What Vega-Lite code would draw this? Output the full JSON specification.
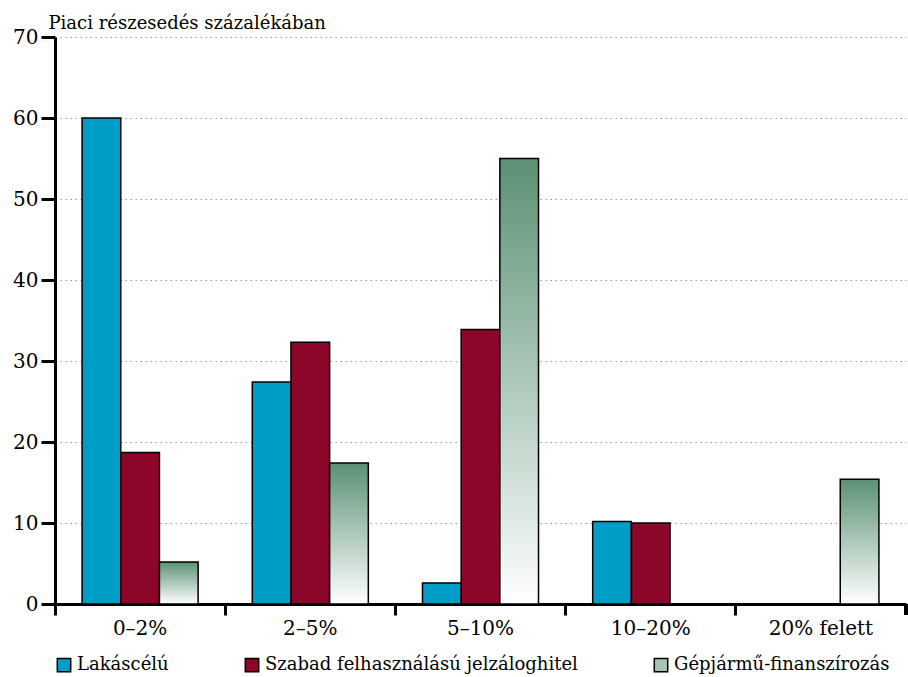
{
  "$schema": "https://vega.github.io/schema/vega-lite/v6.json",
  "width": 851,
  "height": 567,
  "autosize": {"type": "none"},
  "padding": {"left": 55, "top": 37, "right": 2, "bottom": 73},
  "background": "white",
  "config": {"view": {"stroke": null}, "font": "DejaVu Serif"},
  "data": {
    "values": [
      {"kat": "0–2%", "tipus": "Lakáscélú", "ertek": 60.0},
      {"kat": "0–2%", "tipus": "Szabad felhasználású jelzáloghitel", "ertek": 18.7},
      {"kat": "0–2%", "tipus": "Gépjármű-finanszírozás", "ertek": 5.2},
      {"kat": "2–5%", "tipus": "Lakáscélú", "ertek": 27.4},
      {"kat": "2–5%", "tipus": "Szabad felhasználású jelzáloghitel", "ertek": 32.3},
      {"kat": "2–5%", "tipus": "Gépjármű-finanszírozás", "ertek": 17.4},
      {"kat": "5–10%", "tipus": "Lakáscélú", "ertek": 2.6},
      {"kat": "5–10%", "tipus": "Szabad felhasználású jelzáloghitel", "ertek": 33.9},
      {"kat": "5–10%", "tipus": "Gépjármű-finanszírozás", "ertek": 55.0},
      {"kat": "10–20%", "tipus": "Lakáscélú", "ertek": 10.2},
      {"kat": "10–20%", "tipus": "Szabad felhasználású jelzáloghitel", "ertek": 10.0},
      {"kat": "20% felett", "tipus": "Gépjármű-finanszírozás", "ertek": 15.4}
    ]
  },
  "layer": [
    {
      "mark": {"type": "bar", "stroke": "black", "strokeWidth": 1.5},
      "encoding": {
        "x": {
          "field": "kat",
          "type": "nominal",
          "scale": {"domain": ["0–2%", "2–5%", "5–10%", "10–20%", "20% felett"], "paddingInner": 0, "paddingOuter": 0},
          "axis": {
            "orient": "bottom",
            "title": null,
            "domain": false,
            "ticks": false,
            "grid": false,
            "labelAngle": 0,
            "labelFont": "DejaVu Serif",
            "labelFontSize": 20,
            "labelColor": "black",
            "labelPadding": 14
          }
        },
        "xOffset": {
          "field": "tipus",
          "type": "nominal",
          "scale": {"domain": ["Lakáscélú", "Szabad felhasználású jelzáloghitel", "Gépjármű-finanszírozás"], "paddingInner": 0, "paddingOuter": 0.7}
        },
        "y": {
          "field": "ertek",
          "type": "quantitative",
          "scale": {"domain": [0, 70], "nice": false},
          "axis": {
            "values": [0, 10, 20, 30, 40, 50, 60, 70],
            "title": "Piaci részesedés százalékában",
            "titleAngle": 0,
            "titleAlign": "left",
            "titleBaseline": "alphabetic",
            "titleX": -7,
            "titleY": -9,
            "titleFont": "DejaVu Serif",
            "titleFontSize": 18,
            "titleFontWeight": "normal",
            "titleColor": "black",
            "domainColor": "black",
            "domainWidth": 3,
            "tickColor": "black",
            "tickWidth": 3,
            "tickSize": 14,
            "labelFont": "DejaVu Serif",
            "labelFontSize": 20,
            "labelColor": "black",
            "labelPadding": 3,
            "grid": true,
            "gridColor": "#9a9a9a",
            "gridDash": [1.5, 3.5],
            "gridWidth": 1.2
          }
        },
        "fill": {
          "condition": {
            "test": "datum.tipus === 'Gépjármű-finanszírozás'",
            "value": {
              "gradient": "linear",
              "x1": 0, "y1": 0, "x2": 0, "y2": 1,
              "stops": [
                {"offset": 0, "color": "#5b9174"},
                {"offset": 1, "color": "#ffffff"}
              ]
            }
          },
          "field": "tipus",
          "type": "nominal",
          "scale": {
            "domain": ["Lakáscélú", "Szabad felhasználású jelzáloghitel", "Gépjármű-finanszírozás"],
            "range": ["#009ec6", "#8b0628", "#a6c4b2"]
          },
          "legend": {
            "title": null,
            "orient": "bottom",
            "direction": "horizontal",
            "symbolType": "square",
            "symbolSize": 180,
            "symbolStrokeColor": "black",
            "symbolStrokeWidth": 1.5,
            "symbolOpacity": 1,
            "labelFont": "DejaVu Serif",
            "labelFontSize": 18,
            "labelColor": "black",
            "labelOffset": 4,
            "labelLimit": 0,
            "columnPadding": 73,
            "offset": 18
          }
        }
      }
    },
    {
      "mark": {"type": "rule", "stroke": "black", "strokeWidth": 3},
      "encoding": {
        "x": {
          "datum": "20% felett",
          "type": "nominal",
          "bandPosition": 1,
          "axis": {
            "orient": "bottom",
            "title": null,
            "labels": false,
            "grid": false,
            "bandPosition": 0,
            "domainColor": "black",
            "domainWidth": 3,
            "tickColor": "black",
            "tickWidth": 3,
            "tickSize": 11
          }
        },
        "y": {"datum": 0, "type": "quantitative"},
        "y2": {"datum": -1.36}
      }
    }
  ],
  "resolve": {"axis": {"x": "independent"}}
}
